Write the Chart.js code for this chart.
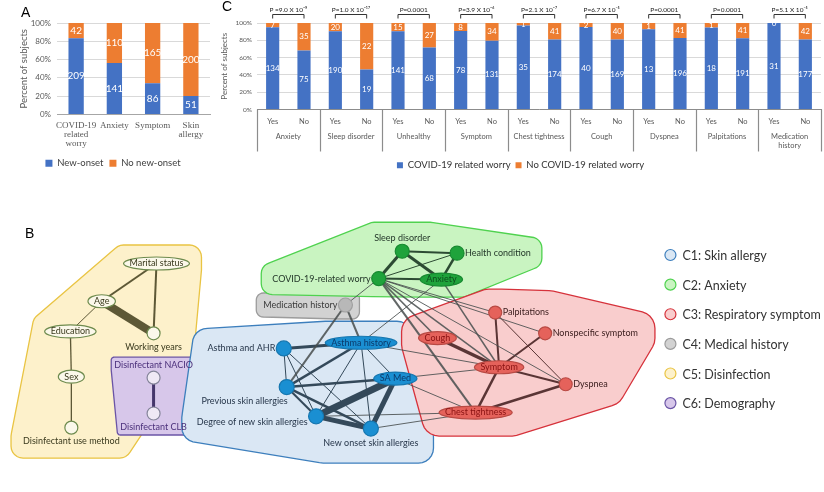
<!DOCTYPE html>
<html>
<head>
<meta charset="utf-8">
<script src="https://cdn.jsdelivr.net/npm/chart.js@4.4.1/dist/chart.umd.min.js"></script>
<style>
  body { margin: 0; background: #fff; width: 824px; height: 492px; position: relative; overflow: hidden; font-family: "Liberation Sans", Arial, sans-serif; }
  canvas { position: absolute; }
  #chartA { left: 0; top: 0; }
  #chartC { left: 220px; top: 0; }
  #chartB { left: 0; top: 185px; }
  .tag { position: absolute; font-size: 14px; line-height: 14px; color: #000; }
</style>
</head>
<body>
<canvas id="chartB" width="824" height="307"></canvas>
<canvas id="chartA" width="220" height="180"></canvas>
<canvas id="chartC" width="604" height="180"></canvas>
<div class="tag" style="left:21px;top:5px">A</div>
<div class="tag" style="left:222px;top:-1px">C</div>
<div class="tag" style="left:25px;top:226px">B</div>

<script>
// ---- panel A data
const aCategories = [["COVID-19", "related", "worry"], "Anxiety", "Symptom", ["Skin", "allergy"]]
const aNewOnset = [209, 141, 86, 51]
const aNoNewOnset = [42, 110, 165, 200]

// ---- panel C data (Yes / No per factor)
const cGroups = ["Anxiety", "Sleep disorder", "Unhealthy", "Symptom", "Chest tightness", "Cough", "Dyspnea", "Palpitations", ["Medication", "history"]]
const cAnswers = ["Yes", "No"]
const cWorry = [134, 75, 190, 19, 141, 68, 78, 131, 35, 174, 40, 169, 13, 196, 18, 191, 31, 177]
const cNoWorry = [7, 35, 20, 22, 15, 27, 8, 34, 1, 41, 2, 40, 1, 41, 1, 41, 0, 42]
const cPValues = ["P =9.0 X 10⁻⁹", "P=1.0 X 10⁻¹⁷", "P=0.0001", "P=3.9 X 10⁻⁶", "P=2.1 X 10⁻⁷", "P=6.7 X 10⁻⁵", "P=0.0001", "P=0.0001", "P=5.1 X 10⁻⁵"]
const yTicks = [0, 20, 40, 60, 80, 100]

// ---- panel B network
const nodeNames = ["Marital status", "Age", "Education", "Working years", "Sex", "Disinfectant use method",
  "Disinfectant NACIO", "Disinfectant CLB",
  "Sleep disorder", "Health condition", "COVID-19-related worry", "Anxiety",
  "Medication history",
  "Asthma and AHR", "Asthma history", "SA Med", "Previous skin allergies", "Degree of new skin allergies", "New onset skin allergies",
  "Cough", "Palpitations", "Nonspecific symptom", "Symptom", "Dyspnea", "Chest tightness"]
const nodeX = [151, 95, 63, 148, 64, 64, 148, 148, 402, 458, 378, 442, 344, 281, 360, 395, 284, 314, 370, 438, 497, 548, 501, 569, 477]
const nodeY = [259, 299, 331, 333, 379, 433, 380, 418, 246, 248, 275, 276, 303, 349, 343, 381, 390, 421, 434, 338, 311, 333, 369, 387, 417]
const nodeCluster = ["C5", "C5", "C5", "C5", "C5", "C5", "C6", "C6", "C2", "C2", "C2", "C2", "C4",
  "C1", "C1", "C1", "C1", "C1", "C1", "C3", "C3", "C3", "C3", "C3", "C3"]
const edges = [
  ["Marital status", "Age", 2], ["Marital status", "Working years", 2], ["Age", "Working years", 8],
  ["Age", "Education", 1], ["Education", "Sex", 1.3], ["Sex", "Disinfectant use method", 1.3],
  ["Disinfectant NACIO", "Disinfectant CLB", 3],
  ["Sleep disorder", "Health condition", 2], ["Sleep disorder", "COVID-19-related worry", 3],
  ["Sleep disorder", "Anxiety", 3], ["Health condition", "Anxiety", 2.5],
  ["Health condition", "COVID-19-related worry", 1], ["COVID-19-related worry", "Anxiety", 2],
  ["COVID-19-related worry", "Medication history", 1], ["COVID-19-related worry", "Palpitations", 1],
  ["COVID-19-related worry", "Symptom", 1.5], ["COVID-19-related worry", "Cough", 1.5],
  ["COVID-19-related worry", "Chest tightness", 2], ["COVID-19-related worry", "Dyspnea", 1],
  ["COVID-19-related worry", "Nonspecific symptom", 1], ["Anxiety", "Symptom", 1.5],
  ["Anxiety", "Asthma history", 1],
  ["Medication history", "Previous skin allergies", 2], ["Medication history", "Asthma history", 2],
  ["Asthma and AHR", "Asthma history", 3], ["Asthma and AHR", "Previous skin allergies", 1],
  ["Asthma and AHR", "Degree of new skin allergies", 1], ["Asthma and AHR", "New onset skin allergies", 1],
  ["Asthma history", "Previous skin allergies", 2.5], ["Asthma history", "Degree of new skin allergies", 1],
  ["Asthma history", "New onset skin allergies", 1], ["Asthma history", "SA Med", 1],
  ["Asthma history", "Symptom", 1],
  ["Previous skin allergies", "SA Med", 2.5], ["Previous skin allergies", "Degree of new skin allergies", 2],
  ["Previous skin allergies", "New onset skin allergies", 2.5],
  ["Degree of new skin allergies", "SA Med", 7], ["SA Med", "New onset skin allergies", 5],
  ["Degree of new skin allergies", "New onset skin allergies", 5],
  ["SA Med", "Symptom", 1], ["SA Med", "Chest tightness", 1],
  ["Degree of new skin allergies", "Chest tightness", 1], ["New onset skin allergies", "Chest tightness", 1],
  ["Cough", "Symptom", 3.5], ["Palpitations", "Symptom", 2], ["Nonspecific symptom", "Symptom", 2],
  ["Symptom", "Dyspnea", 2], ["Symptom", "Chest tightness", 2.5], ["Chest tightness", "Dyspnea", 2.5],
  ["Palpitations", "Dyspnea", 1]
]
const clusterIds = ["C1", "C2", "C3", "C4", "C5", "C6"]
const clusterNames = ["C1: Skin allergy", "C2: Anxiety", "C3: Respiratory symptom", "C4: Medical history", "C5: Disinfection", "C6: Demography"]

// ---- styling (kept apart from the data)
const blue = "#4472C4"
const orange = "#ED7D31"
const tickGray = "#595959"

const clusterStyle = {
  C1: { fill: "#dae7f4", stroke: "#3d7fbd", node: "#1a8fd2", nodeLine: "#1677b0", text: "#26364a", inner: "#0b3a6b", edge: "#34495a", r: 7.5, pad: 15 },
  C2: { fill: "#c9f4c1", stroke: "#4fd24f", node: "#1fa33b", nodeLine: "#178a30", text: "#24382a", inner: "#0c4d1c", edge: "#2c4a33", r: 7, pad: 11 },
  C3: { fill: "#f9cdcd", stroke: "#d6323b", node: "#e5625b", nodeLine: "#b94a44", text: "#3e2020", inner: "#8a1212", edge: "#5a3535", r: 6.5, pad: 17 },
  C4: { fill: "#d2d2d2", stroke: "#9c9c9c", node: "#b8b8b8", nodeLine: "#a0a0a0", text: "#3a3a3a", inner: "#333", edge: "#444", r: 7, pad: 7 },
  C5: { fill: "#fdf1cb", stroke: "#e9c443", node: "#fbf8ea", nodeLine: "#6e8b4e", text: "#3a3a1e", inner: "#3a3a1e", edge: "#5d5836", r: 6.5, pad: 12 },
  C6: { fill: "#d7c7ea", stroke: "#6b55a6", node: "#efe9f5", nodeLine: "#85859a", text: "#4a2f7a", inner: "#4a2f7a", edge: "#45366b", r: 6.5, pad: 3 }
}
const ellipseNodes = ["Marital status", "Age", "Education", "Sex", "Anxiety", "Asthma history", "SA Med", "Cough", "Symptom", "Chest tightness"]
const labelPlace = {
  "Working years": "below", "Disinfectant use method": "below", "Disinfectant NACIO": "above", "Disinfectant CLB": "below",
  "Sleep disorder": "above", "Health condition": "right", "COVID-19-related worry": "left", "Medication history": "left",
  "Asthma and AHR": "left", "Previous skin allergies": "belowleft", "Degree of new skin allergies": "leftlow",
  "New onset skin allergies": "below", "Palpitations": "right", "Nonspecific symptom": "right", "Dyspnea": "right"
}
const labelFont = "9px Lato"

Chart.defaults.font.family = "Lato"
Chart.defaults.color = tickGray

const percent = (a, b) => a.map((v, i) => (a[i] + b[i]) ? v / (a[i] + b[i]) * 100 : 0)

// white count numbers in the middle of each stacked segment
const countLabels = {
  id: "countLabels",
  afterDatasetsDraw(chart, args, opts) {
    const ctx = chart.ctx
    ctx.save()
    ctx.font = opts.font
    ctx.fillStyle = "#fff"
    ctx.textAlign = "center"
    ctx.textBaseline = "middle"
    chart.data.datasets.forEach((ds, i) => {
      chart.getDatasetMeta(i).data.forEach((bar, j) => {
        const { x, y, base } = bar.getProps(["x", "y", "base"], true)
        ctx.fillText(ds.counts[j], x, (y + base) / 2)
      })
    })
    ctx.restore()
  }
}

// ---------------- A ----------------
new Chart(document.getElementById("chartA"), {
  type: "bar",
  data: {
    labels: aCategories,
    datasets: [
      { label: "New-onset", data: percent(aNewOnset, aNoNewOnset), counts: aNewOnset, backgroundColor: blue },
      { label: "No new-onset", data: percent(aNoNewOnset, aNewOnset), counts: aNoNewOnset, backgroundColor: orange }
    ]
  },
  options: {
    responsive: false,
    animation: false,
    devicePixelRatio: 1,
    events: [],
    layout: { padding: { top: 23, right: 10, left: 16, bottom: 2 } },
    datasets: { bar: { barPercentage: 0.4, categoryPercentage: 1 } },
    scales: {
      x: {
        stacked: true,
        grid: { display: false, drawTicks: false },
        border: { color: "#a6a6a6" },
        ticks: { color: tickGray, font: { family: "Liberation Serif", size: 9, lineHeight: 1.05 }, padding: 6, maxRotation: 0, autoSkip: false },
        afterFit: s => { s.height = 38 }
      },
      y: {
        stacked: true,
        min: 0,
        max: 100,
        afterBuildTicks: s => { s.ticks = yTicks.map(v => ({ value: v })) },
        ticks: { callback: v => v + "%", color: tickGray, font: { size: 8 }, padding: 6 },
        grid: { color: "#d9d9d9", drawTicks: false },
        border: { display: false },
        title: { display: true, text: "Percent of subjects", color: tickGray, font: { size: 9.5 }, padding: 2 },
        afterFit: s => { s.width = 41 }
      }
    },
    plugins: {
      legend: { position: "bottom", labels: { boxWidth: 7, boxHeight: 7, color: "#404040", font: { size: 9.5 }, padding: 6 } },
      tooltip: { enabled: false },
      countLabels: { font: "10px Lato" }
    }
  },
  plugins: [countLabels]
})

// ---------------- C ----------------
const groupLines = {
  id: "groupLines",
  afterDraw(chart) {
    const { ctx, chartArea } = chart
    const xs = chart.scales.x
    ctx.save()
    ctx.strokeStyle = "#8c8c8c"
    ctx.lineWidth = 1.2
    for (let g = 0; g <= cGroups.length; g++) {
      const px = Math.round(xs.getPixelForValue(g * cAnswers.length - 0.5)) + 0.5
      ctx.beginPath()
      ctx.moveTo(px, chartArea.bottom)
      ctx.lineTo(px, chartArea.bottom + 42)
      ctx.stroke()
    }
    // p-value brackets
    ctx.strokeStyle = "#333"
    ctx.lineWidth = 1
    ctx.fillStyle = "#222"
    ctx.font = "6.5px Lato"
    ctx.textAlign = "center"
    ctx.textBaseline = "alphabetic"
    cPValues.forEach((p, g) => {
      const x1 = xs.getPixelForValue(g * 2)
      const x2 = xs.getPixelForValue(g * 2 + 1)
      const yl = chartArea.top - 8.5
      ctx.beginPath()
      ctx.moveTo(x1, chartArea.top - 4.5)
      ctx.lineTo(x1, yl)
      ctx.lineTo(x2, yl)
      ctx.lineTo(x2, chartArea.top - 4.5)
      ctx.stroke()
      ctx.fillText(p, (x1 + x2) / 2, yl - 2.5)
    })
    ctx.restore()
  }
}

new Chart(document.getElementById("chartC"), {
  type: "bar",
  data: {
    labels: cGroups.flatMap((g, k) => cAnswers.map(a => k + " " + a)),
    datasets: [
      { label: "COVID-19 related worry", data: percent(cWorry, cNoWorry), counts: cWorry, backgroundColor: blue },
      { label: "No COVID-19 related worry", data: percent(cNoWorry, cWorry), counts: cNoWorry, backgroundColor: orange }
    ]
  },
  options: {
    responsive: false,
    animation: false,
    devicePixelRatio: 1,
    events: [],
    layout: { padding: { top: 23, right: 3, left: 0, bottom: 0 } },
    datasets: { bar: { barPercentage: 0.42, categoryPercentage: 1 } },
    scales: {
      x: {
        stacked: true,
        grid: { display: false, drawTicks: false },
        border: { color: "#8c8c8c" },
        ticks: { callback: (v, i) => cAnswers[i % cAnswers.length], color: tickGray, font: { size: 7.5 }, padding: 8, maxRotation: 0, autoSkip: false },
        afterFit: s => { s.height = 17 }
      },
      x2: {
        type: "category",
        labels: cGroups,
        position: "bottom",
        offset: true,
        grid: { display: false, drawTicks: false },
        border: { display: false },
        ticks: { color: tickGray, font: { size: 7.5, lineHeight: 1.2 }, padding: 6, maxRotation: 0, autoSkip: false },
        afterFit: s => { s.height = 29 }
      },
      y: {
        stacked: true,
        min: 0,
        max: 100,
        afterBuildTicks: s => { s.ticks = yTicks.map(v => ({ value: v })) },
        ticks: { callback: v => v + "%", color: tickGray, font: { size: 6.5 }, padding: 5 },
        grid: { color: "#d9d9d9", drawTicks: false },
        border: { display: false },
        title: { display: true, text: "Percent of subjects", color: tickGray, font: { size: 8 }, padding: 0 },
        afterFit: s => { s.width = 37 }
      }
    },
    plugins: {
      legend: { position: "bottom", labels: { boxWidth: 6, boxHeight: 6, color: "#333", font: { size: 9.5 }, padding: 5 } },
      tooltip: { enabled: false },
      countLabels: { font: "8px Lato" }
    }
  },
  plugins: [countLabels, groupLines]
})

// ---------------- B (network) ----------------
function nodeGeom(chart, i) {
  const ctx = chart.ctx
  const st = clusterStyle[nodeCluster[i]]
  const px = chart.scales.x.getPixelForValue(nodeX[i])
  const py = chart.scales.y.getPixelForValue(nodeY[i])
  ctx.save()
  ctx.font = labelFont
  const tw = ctx.measureText(nodeNames[i]).width
  ctx.restore()
  const ellipse = ellipseNodes.includes(nodeNames[i])
  const rx = ellipse ? tw / 2 + 6 : st.r
  const ry = ellipse ? 6.5 : st.r
  const place = ellipse ? "inside" : (labelPlace[nodeNames[i]] || "right")
  let lx = px, ly = py, align = "center"
  if (place === "left") { lx = px - rx - 1; align = "right" }
  if (place === "leftlow") { lx = px - rx - 1; ly = py + 6; align = "right" }
  if (place === "right") { lx = px + rx + 1; align = "left" }
  if (place === "above") { ly = py - ry - 6 }
  if (place === "below") { ly = py + ry + 7 }
  if (place === "belowleft") { lx = px + 1; ly = py + ry + 7; align = "right" }
  const x0 = align === "left" ? lx : align === "right" ? lx - tw : lx - tw / 2
  return { px, py, rx, ry, ellipse, lx, ly, align, box: [x0, ly - 5, x0 + tw, ly + 5] }
}

function convexHull(pts) {
  pts.sort((a, b) => a.x - b.x || a.y - b.y)
  const cross = (o, a, b) => (a.x - o.x) * (b.y - o.y) - (a.y - o.y) * (b.x - o.x)
  const lo = [], up = []
  for (const p of pts) {
    while (lo.length >= 2 && cross(lo[lo.length - 2], lo[lo.length - 1], p) <= 0) lo.pop()
    lo.push(p)
  }
  for (let k = pts.length - 1; k >= 0; k--) {
    const p = pts[k]
    while (up.length >= 2 && cross(up[up.length - 2], up[up.length - 1], p) <= 0) up.pop()
    up.push(p)
  }
  lo.pop(); up.pop()
  return lo.concat(up)
}

const networkDecor = {
  id: "networkDecor",
  beforeDatasetsDraw(chart) {
    const ctx = chart.ctx
    ;["C5", "C6", "C4", "C2", "C1", "C3"].forEach(c => {
      const st = clusterStyle[c]
      const pts = []
      nodeNames.forEach((n, i) => {
        if (nodeCluster[i] !== c) return
        const g = nodeGeom(chart, i)
        const boxes = [[g.px - g.rx, g.py - g.ry, g.px + g.rx, g.py + g.ry], g.box]
        boxes.forEach(b => {
          ;[[b[0], b[1]], [b[2], b[1]], [b[0], b[3]], [b[2], b[3]]].forEach(([cx, cy]) => {
            for (let a = 0; a < 24; a++) {
              const t = a / 24 * Math.PI * 2
              pts.push({ x: cx + Math.cos(t) * st.pad, y: cy + Math.sin(t) * st.pad })
            }
          })
        })
      })
      const h = convexHull(pts)
      ctx.save()
      ctx.beginPath()
      h.forEach((p, k) => k ? ctx.lineTo(p.x, p.y) : ctx.moveTo(p.x, p.y))
      ctx.closePath()
      ctx.fillStyle = st.fill
      ctx.fill()
      ctx.strokeStyle = st.stroke
      ctx.lineWidth = 1.3
      ctx.stroke()
      ctx.restore()
    })
  },
  afterDatasetsDraw(chart) {
    const ctx = chart.ctx
    ctx.save()
    ctx.font = labelFont
    ctx.textBaseline = "middle"
    nodeNames.forEach((n, i) => {
      const st = clusterStyle[nodeCluster[i]]
      const g = nodeGeom(chart, i)
      if (g.ellipse) {
        ctx.beginPath()
        ctx.ellipse(g.px, g.py, g.rx, g.ry, 0, 0, Math.PI * 2)
        ctx.fillStyle = st.node
        ctx.fill()
        ctx.strokeStyle = st.nodeLine
        ctx.lineWidth = 1.2
        ctx.stroke()
      }
      ctx.fillStyle = g.ellipse ? st.inner : st.text
      ctx.textAlign = g.align
      ctx.fillText(n, g.lx, g.ly)
    })
    // cluster legend
    const xs = chart.scales.x, ys = chart.scales.y
    ctx.font = "12.5px Lato"
    ctx.textAlign = "left"
    clusterIds.forEach((c, k) => {
      const st = clusterStyle[c]
      const cx = xs.getPixelForValue(676)
      const cy = ys.getPixelForValue(250 + k * 31.4)
      ctx.beginPath()
      ctx.arc(cx, cy, 5.5, 0, Math.PI * 2)
      ctx.fillStyle = st.fill
      ctx.fill()
      ctx.strokeStyle = st.stroke
      ctx.lineWidth = 1.2
      ctx.stroke()
      ctx.fillStyle = "#333"
      ctx.fillText(clusterNames[k], cx + 12, cy + 1)
    })
    ctx.restore()
  }
}

const idx = name => nodeNames.indexOf(name)
const edgeSets = edges.map(([a, b, w]) => {
  const i = idx(a), j = idx(b)
  const same = nodeCluster[i] === nodeCluster[j]
  return {
    type: "scatter",
    data: [{ x: nodeX[i], y: nodeY[i] }, { x: nodeX[j], y: nodeY[j] }],
    showLine: true,
    borderWidth: w,
    borderColor: same ? clusterStyle[nodeCluster[i]].edge : "rgba(70,76,76,0.85)",
    pointRadius: 0,
    order: 2
  }
})
const nodeSet = {
  type: "scatter",
  data: nodeNames.map((n, i) => ({ x: nodeX[i], y: nodeY[i] })),
  pointRadius: nodeNames.map((n, i) => ellipseNodes.includes(n) ? 0 : clusterStyle[nodeCluster[i]].r),
  pointBackgroundColor: nodeNames.map((n, i) => clusterStyle[nodeCluster[i]].node),
  pointBorderColor: nodeNames.map((n, i) => clusterStyle[nodeCluster[i]].nodeLine),
  pointBorderWidth: 1.2,
  order: 1
}

new Chart(document.getElementById("chartB"), {
  type: "scatter",
  data: { datasets: [...edgeSets, nodeSet] },
  options: {
    responsive: false,
    animation: false,
    devicePixelRatio: 1,
    events: [],
    layout: { padding: 0 },
    scales: {
      x: { type: "linear", min: 0, max: 824, display: false },
      y: { type: "linear", min: 185, max: 492, reverse: true, display: false }
    },
    plugins: { legend: { display: false }, tooltip: { enabled: false } }
  },
  plugins: [networkDecor]
})
</script>
</body>
</html>
